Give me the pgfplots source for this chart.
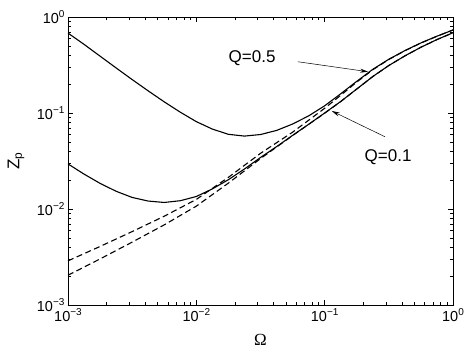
\documentclass[border=0pt]{standalone}
\usepackage{fontspec}
\setmainfont{Liberation Sans}
\newfontfamily\serif{Liberation Serif}
\usepackage{pgfplots}
\pgfplotsset{compat=1.18}
\usetikzlibrary{arrows.meta}
\newcommand{\tl}[1]{10\raisebox{0.42em}{\fontsize{10}{10}\selectfont #1}}

\begin{document}
\begin{tikzpicture}
  \begin{loglogaxis}[
      name=ax,
      scale only axis, width=385pt, height=288pt,
      xmin=1e-3, xmax=1, ymin=1e-3, ymax=1,
      xtick={1e-3,1e-2,1e-1,1}, ytick={1e-3,1e-2,1e-1,1},
      xticklabels={\tl{−3},\tl{−2},\tl{−1},\tl{0}},
      yticklabels={\tl{−3},\tl{−2},\tl{−1},\tl{0}},
      tick label style={font=\fontsize{14.5}{16}\selectfont},
      major tick length=5pt, minor tick length=3pt,
      tick style={black, line width=0.6pt},
      axis line style={line width=0.8pt},
      xlabel={\serif Ω},
      ylabel={Z\textsubscript{p}},
      label style={font=\fontsize{17}{20}\selectfont},
      xlabel style={at={(axis description cs:0.5,-0.122)}, anchor=center},
      ylabel style={at={(axis description cs:-0.135,0.5)}, anchor=center},
    ]
    % Q=0.5, solid
    \addplot[black, line width=1.1pt] coordinates {
      (0.001,0.68) (0.0013335,0.519) (0.0017783,0.391) (0.0023714,0.2948)
      (0.0031623,0.223) (0.004217,0.170) (0.0056234,0.1307) (0.0074989,0.1020)
      (0.01,0.0813) (0.013335,0.0680) (0.017783,0.0600) (0.023714,0.0575)
      (0.031623,0.0597) (0.04217,0.0658) (0.056234,0.0768) (0.074989,0.0933)
      (0.1,0.1189) (0.13335,0.1585) (0.17783,0.2138) (0.23714,0.2851)
      (0.31623,0.3631) (0.4217,0.4467) (0.56234,0.537) (0.74989,0.631) (1,0.7328)};
    % Q=0.1, solid
    \addplot[black, line width=1.1pt] coordinates {
      (0.001,0.0295) (0.0013335,0.0231) (0.0017783,0.0185) (0.0023714,0.0153)
      (0.0031623,0.0132) (0.004217,0.0121) (0.0056234,0.0117) (0.0074989,0.0122)
      (0.01,0.0135) (0.013335,0.0162) (0.017783,0.0202) (0.023714,0.0261)
      (0.031623,0.0344) (0.04217,0.0446) (0.056234,0.0585) (0.074989,0.0762)
      (0.1,0.1) (0.13335,0.1318) (0.17783,0.1778) (0.23714,0.2399)
      (0.31623,0.3126) (0.4217,0.3936) (0.56234,0.4842) (0.74989,0.5821) (1,0.6855)};
    % Q=0.5, dashed
    \addplot[black, line width=1.1pt, dash pattern=on 6pt off 3.5pt] coordinates {
      (0.001,0.002884) (0.0017783,0.004074) (0.0031623,0.005821) (0.0056234,0.008414)
      (0.01,0.012589) (0.017783,0.02138) (0.031623,0.038019) (0.056234,0.0631)
      (0.1,0.112) (0.13335,0.1531) (0.17783,0.2099) (0.23714,0.2822) (0.31623,0.361)
      (0.4217,0.4451) (0.56234,0.536) (0.74989,0.63) (1,0.7328)};
    % Q=0.1, dashed
    \addplot[black, line width=1.1pt, dash pattern=on 6pt off 3.5pt] coordinates {
      (0.001,0.002042) (0.0017783,0.00302) (0.0031623,0.004519) (0.0056234,0.006839)
      (0.01,0.010715) (0.017783,0.018621) (0.031623,0.033497) (0.056234,0.0582)
      (0.1,0.0995) (0.13335,0.1316) (0.17783,0.1777) (0.23714,0.2398) (0.31623,0.3125)
      (0.4217,0.3935) (0.56234,0.4841) (0.74989,0.582) (1,0.6855)};

    \node[font=\fontsize{17}{20}\selectfont] at (axis cs:0.0272,0.374) {Q=0.5};
    \draw[-{Stealth[length=8pt,width=4pt]}, line width=0.5pt]
      (axis cs:0.0619,0.342) -- (axis cs:0.218,0.269);
    \node[font=\fontsize{17}{20}\selectfont] at (axis cs:0.312,0.0348) {Q=0.1};
    \draw[-{Stealth[length=8pt,width=4pt]}, line width=0.5pt]
      (axis cs:0.295,0.0566) -- (axis cs:0.1135,0.105);
  \end{loglogaxis}
  \pgfresetboundingbox
  \path[use as bounding box] ([xshift=-68pt,yshift=-49pt]ax.south west)
    rectangle ([xshift=16pt,yshift=17pt]ax.north east);
\end{tikzpicture}
\end{document}
